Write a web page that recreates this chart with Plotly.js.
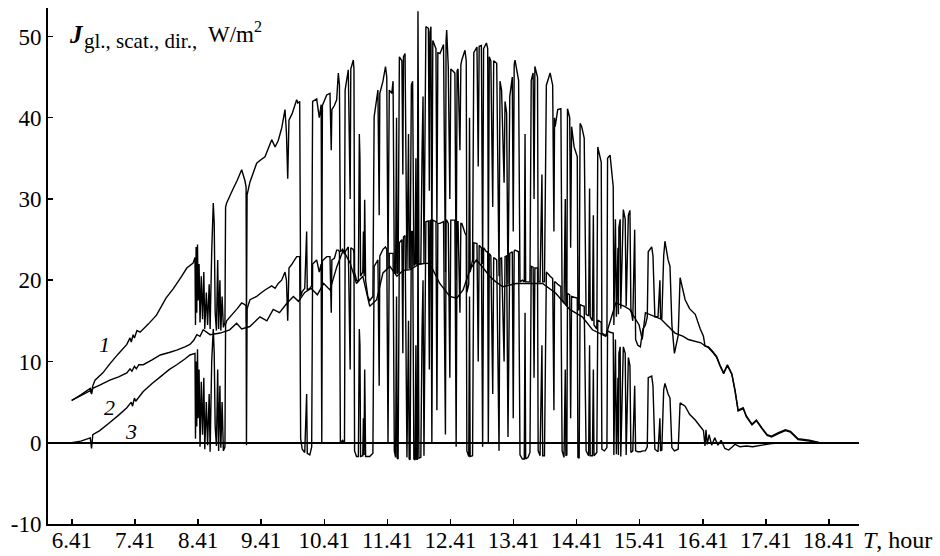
<!DOCTYPE html>
<html>
<head>
<meta charset="utf-8">
<script src="https://cdn.plot.ly/plotly-3.0.1.min.js"></script>
<style>html,body{margin:0;padding:0;background:#fff;}#chart{width:940px;height:556px;}</style>
</head>
<body>
<div id="chart"></div>
<script>
// Time axis (hours) and tick labels
const tickHours = [6.41, 7.41, 8.41, 9.41, 10.41, 11.41, 12.41, 13.41, 14.41, 15.41, 16.41, 17.41, 18.41];
const tickLabels = ["6.41", "7.41", "8.41", "9.41", "10.41", "11.41", "12.41", "13.41", "14.41", "15.41", "16.41", "17.41", "18.41"];
const yTicks = [-10, 0, 10, 20, 30, 40, 50];
const yTickLabels = ["-10", "0", "10", "20", "30", "40", "50"];

// Morning part of curve 1 (global)
const tMorning1 = [6.405,6.55,6.70,6.72,6.74,6.775,6.90,7.01,7.14,7.28,7.33,7.35,7.38,7.40,7.44,7.49,7.62,7.75,7.90,8.02,8.15,8.23,8.33];
const jMorning1 = [5.2,5.9,6.7,6.2,7.0,7.7,8.6,9.7,10.9,12.1,12.9,12.4,13.3,12.9,13.8,13.6,14.6,15.7,17.8,19.0,20.5,21.5,22.1];

// Morning part of curve 3 (direct)
const tMorning3 = [6.405,6.55,6.70,6.72,6.74,6.85,7.01,7.15,7.28,7.35,7.37,7.40,7.42,7.54,7.68,7.81,7.95,8.07,8.20,8.28];
const jMorning3 = [0.0,0.2,0.6,-0.7,1.0,1.5,2.5,3.4,4.3,5.0,4.5,5.5,5.1,6.3,7.3,8.1,9.0,9.6,10.3,10.8];

// Cloudy period: common time stamps, global (curve 1) and direct (curve 3)
const tCloud = [
8.360,8.368,8.378,8.388,8.400,8.410,8.425,8.440,8.460,8.480,
8.500,8.515,8.540,8.560,8.585,8.600,8.625,8.650,8.665,8.680,
8.700,8.720,8.735,8.755,8.770,8.790,8.810,8.835,8.845,8.862,
8.950,9.030,9.100,9.150,9.170,9.176,9.186,9.232,9.338,9.400,
9.470,9.576,9.630,9.680,9.734,9.787,9.810,9.830,9.850,9.900,
9.972,9.990,10.020,10.035,10.060,10.100,10.130,10.140,10.180,10.210,
10.225,10.289,10.330,10.360,10.370,10.380,10.448,10.500,10.520,10.530,
10.570,10.606,10.632,10.650,10.665,10.700,10.730,10.740,10.790,10.820,
10.830,10.870,10.880,10.890,10.920,10.950,10.965,10.975,10.985,11.020,
11.030,11.040,11.050,11.065,11.100,11.130,11.180,11.200,11.260,11.280,
11.290,11.340,11.380,11.400,11.420,11.440,11.480,11.500,11.520,11.540,
11.555,11.565,11.580,11.600,11.640,11.655,11.665,11.690,11.720,11.745,
11.755,11.770,11.790,11.810,11.830,11.850,11.862,11.872,11.885,11.895,
11.910,11.940,11.960,11.975,11.990,12.020,12.060,12.075,12.085,12.100,
12.115,12.130,12.180,12.195,12.210,12.244,12.300,12.330,12.340,12.350,
12.375,12.400,12.415,12.480,12.500,12.515,12.530,12.560,12.575,12.590,
12.640,12.660,12.670,12.700,12.712,12.722,12.760,12.780,12.830,12.850,
12.865,12.900,12.920,12.935,12.980,13.000,13.010,13.025,13.050,13.080,
13.095,13.143,13.180,13.195,13.220,13.260,13.275,13.300,13.322,13.350,
13.390,13.405,13.420,13.433,13.490,13.512,13.550,13.580,13.592,13.602,
13.640,13.670,13.690,13.720,13.735,13.748,13.790,13.800,13.830,13.860,
13.872,13.900,13.930,13.990,14.030,14.050,14.060,14.070,14.110,14.160,
14.180,14.210,14.230,14.240,14.255,14.265,14.300,14.315,14.330,14.370,
14.420,14.430,14.450,14.465,14.490,14.530,14.560,14.600,14.615,14.625,
14.660,14.675,14.685,14.730,14.745,14.800,14.810,14.850,14.890,14.900,
14.940,14.990,15.000,15.025,15.040,15.065,15.072,15.080,15.100,15.110,
15.150,15.180,15.195,15.230,15.255,15.270,15.300,15.330,15.345,15.380,
15.420,15.460,15.500,15.530,15.545,15.600,15.620,15.650,15.700,15.730,
15.740,15.760,15.790,15.810,15.860,15.890,15.920,15.960,16.020,16.050,
16.130,16.200,16.290,16.370,16.420,16.445];
const jCloud1 = [
22.8,14.5,24.1,16.0,24.4,17.5,22.0,14.8,20.5,15.2,
21.0,14.0,18.5,14.5,19.5,14.0,23.5,29.5,27.0,16.0,
13.8,22.5,14.0,20.0,13.8,18.0,14.2,14.8,29.0,29.5,
31.0,32.3,33.6,32.3,31.5,14.8,30.5,32.1,34.4,34.8,
35.2,37.3,36.4,37.2,38.7,41.0,38.1,32.5,39.7,40.5,
42.2,41.8,42.0,18.0,18.6,19.0,26.0,18.8,19.0,19.3,
42.0,42.3,40.0,41.6,19.5,41.5,42.8,43.0,36.0,41.0,
41.5,42.2,45.5,44.0,23.5,23.8,23.2,43.4,45.9,30.0,
46.0,47.1,46.0,21.0,20.0,19.8,38.0,35.0,20.5,21.0,
26.0,20.5,29.9,20.0,18.0,17.5,18.0,40.1,43.4,28.0,
43.0,44.5,46.3,45.0,21.5,43.4,43.0,44.5,21.0,20.8,
40.0,20.8,21.0,47.5,47.0,33.0,47.5,47.9,21.3,38.0,
21.5,21.5,44.0,44.5,21.8,22.0,35.0,22.0,22.0,53.1,
22.0,22.0,36.0,42.6,22.0,51.2,51.0,31.0,50.5,51.2,
22.0,49.5,48.5,27.0,48.0,47.9,49.0,21.0,49.5,50.8,
46.3,30.0,46.0,45.5,20.0,45.8,46.0,36.0,46.5,47.1,
48.3,47.0,18.5,19.5,40.0,21.0,22.5,48.0,48.7,34.0,
48.8,48.9,22.0,48.5,49.2,48.5,21.0,47.5,47.0,29.0,
47.0,46.7,20.5,44.5,43.4,32.0,42.0,40.6,19.5,42.6,
45.0,26.0,46.5,47.1,44.6,19.8,20.0,19.8,38.0,19.8,
19.8,19.8,44.6,45.5,30.0,46.3,45.0,19.8,19.8,33.0,
19.8,19.8,44.0,45.5,44.0,26.0,40.0,38.9,41.0,41.1,
17.5,17.2,30.0,17.0,17.0,41.1,40.0,24.0,38.9,36.4,
35.2,16.5,16.3,39.3,38.9,37.5,15.8,15.6,31.3,15.5,
15.0,28.0,14.5,14.0,36.4,34.5,13.5,13.3,13.2,35.0,
35.4,31.5,14.5,27.5,15.5,24.0,15.8,26.5,27.5,16.5,
28.7,27.5,16.8,28.0,28.6,16.5,15.0,26.2,12.7,12.0,
11.8,14.0,14.5,15.5,23.5,24.1,23.0,15.5,15.5,20.0,
15.3,15.2,23.0,24.8,22.5,21.7,14.5,11.0,13.2,20.3,
17.6,16.5,15.8,14.0,13.1,11.9];
const jCloud3 = [
11.0,0.5,10.0,2.0,11.5,3.0,9.0,-0.5,7.5,1.0,
8.0,-0.8,5.0,-0.3,6.0,-1.1,10.0,14.0,11.0,2.0,
-0.4,9.0,-1.0,7.0,-0.6,5.0,-1.0,-0.5,14.5,15.0,
15.8,16.5,17.2,17.0,16.8,-0.3,16.5,17.6,18.0,18.4,
18.8,19.3,19.0,19.6,20.0,21.0,20.0,15.0,21.5,22.0,
22.9,22.9,22.9,0.5,-0.8,-1.2,6.0,-1.3,-1.5,-0.5,
22.0,22.5,21.0,22.0,0.0,22.4,22.9,22.9,16.0,22.5,
22.7,23.7,23.7,23.5,0.0,0.3,0.0,23.5,24.1,9.0,
24.0,23.8,23.3,-1.0,-1.7,-1.7,14.0,12.0,-1.7,-1.6,
3.0,-1.5,9.0,-1.7,-1.7,-1.7,-1.3,21.7,22.5,7.0,
23.0,23.8,24.1,23.8,0.0,23.3,23.3,23.3,-1.0,-1.8,
18.0,-1.9,-2.0,24.6,25.0,11.0,25.3,25.5,-1.8,15.0,
-2.0,-2.1,26.0,26.0,-2.0,-2.1,12.0,-2.0,-2.1,27.0,
-1.9,-1.8,14.0,20.0,-1.6,27.2,27.3,9.0,27.3,27.4,
0.0,27.4,27.2,4.0,27.0,27.0,27.2,1.0,27.4,27.4,
27.0,8.0,27.4,27.4,-0.5,27.2,27.2,16.0,27.0,27.0,
25.8,25.5,-1.0,-1.7,18.0,-1.7,-1.6,24.6,24.5,10.0,
24.3,24.0,-0.5,24.0,23.5,23.5,0.0,23.3,23.0,6.0,
22.8,22.5,-1.0,22.6,22.8,10.0,22.9,23.0,0.7,23.3,
23.5,3.0,23.6,23.7,23.5,-1.5,-2.0,-2.0,16.0,-2.0,
-1.8,-1.2,21.7,21.6,8.0,21.5,21.5,-1.0,-1.6,12.0,
-1.6,-1.6,21.0,20.5,20.2,4.0,19.8,19.8,19.5,19.2,
-1.0,-1.8,9.0,-1.6,-1.5,18.4,18.2,3.0,18.0,17.9,
17.8,-1.8,-1.9,17.0,16.9,16.8,-1.0,-1.6,12.0,-1.6,
-1.6,9.0,-1.6,-1.2,15.1,14.8,-0.8,-1.0,-0.6,13.8,
13.6,13.5,-1.5,12.7,-1.4,8.0,-1.5,11.0,11.8,-1.7,
11.8,11.0,-1.5,10.5,9.5,-1.2,-1.0,7.0,-1.0,-1.1,
-1.1,-1.0,-1.0,-0.5,8.0,8.2,7.0,-0.8,-1.1,3.0,
-1.0,-0.9,6.5,7.3,6.0,5.5,-0.6,-1.0,-0.8,4.9,
4.5,3.5,2.8,2.0,1.5,-0.4];

// Evening parts
const tEvening1 = [16.50,16.57,16.63,16.68,16.74,16.80,16.87,16.92,16.97,17.05,17.10,17.19,17.26,17.35,17.43,17.50,17.60,17.72,17.80,17.92,18.10,18.25,18.87];
const jEvening1 = [11.8,11.2,10.6,9.6,8.6,9.6,8.5,6.5,4.0,4.3,3.3,2.3,2.8,1.8,1.0,0.8,1.2,1.6,1.4,0.5,0.3,0.05,0.0];
const tEvening3 = [16.46,16.48,16.51,16.55,16.60,16.65,16.70,16.76,16.82,16.88,16.92,17.00,17.10,17.20,17.35,17.50,17.70,18.87];
const jEvening3 = [1.6,-0.2,1.0,-0.3,0.6,-0.3,0.3,-0.7,-0.9,-0.5,-0.2,-0.5,-0.4,-0.5,-0.3,-0.1,0.0,0.0];

// Curve 2: scattered radiation (whole day)
const t2 = [6.405,6.55,6.70,6.72,6.74,6.85,7.01,7.15,7.28,7.33,7.36,7.40,7.43,7.47,7.54,7.68,7.81,7.95,8.07,8.20,8.28,8.34,8.39,8.44,8.49,
8.60,8.76,8.91,9.02,9.10,9.23,9.39,9.50,9.60,9.70,9.82,9.92,10.00,10.10,10.20,10.30,10.40,10.50,10.61,10.71,10.82,10.92,11.02,11.13,11.24,
11.34,11.45,11.56,11.66,11.77,11.92,12.08,12.24,12.40,12.51,12.61,12.72,12.82,12.93,13.03,13.13,13.24,13.45,13.66,13.87,14.08,14.30,14.50,
14.66,14.87,15.03,15.16,15.25,15.40,15.45,15.50,15.66,15.75,15.97,16.10,16.18,16.38,16.45,16.50,16.57,16.63,16.68,16.74,16.80,16.87,16.92,
16.97,17.05,17.10,17.19,17.26,17.35,17.43,17.50,17.60,17.72,17.80,17.92,18.10,18.25,18.87];
const j2 = [5.2,5.8,6.4,6.0,6.7,7.1,7.7,8.1,8.6,9.1,8.8,9.4,9.1,9.6,9.6,10.2,10.8,11.1,11.4,11.8,12.1,12.6,13.3,13.1,13.9,
13.3,13.5,13.9,14.7,14.0,14.3,15.5,15.0,16.4,16.0,17.2,18.0,17.4,18.5,19.0,18.2,19.6,18.8,21.7,23.7,22.1,19.6,20.5,16.8,17.6,
20.9,21.7,20.5,21.2,21.3,22.0,22.1,19.6,18.0,17.8,18.8,21.3,22.5,21.5,20.5,19.8,19.2,19.6,19.6,19.6,18.4,16.4,15.5,
13.9,13.1,17.2,16.8,16.4,14.5,12.7,16.0,15.5,15.2,13.5,13.1,12.7,12.3,11.9,11.7,11.1,10.5,9.5,8.5,9.5,8.4,6.4,
3.9,4.2,3.2,2.2,2.7,1.7,0.9,0.7,1.1,1.5,1.3,0.4,0.2,0.0,0.0];

// Curve number labels
const curveNames = ["1", "2", "3"];
const labelHours = [6.92, 7.01, 7.345];
const labelValues = [12.05, 4.3, 1.35];

const t1 = tMorning1.concat(tCloud, tEvening1);
const j1 = jMorning1.concat(jCloud1, jEvening1);
const t3 = tMorning3.concat(tCloud, tEvening3);
const j3 = jMorning3.concat(jCloud3, jEvening3);

const lineStyle = {color: '#000', width: 1.4, simplify: false};
const traces = [
  {x: t1, y: j1, type: 'scatter', mode: 'lines', line: lineStyle, hoverinfo: 'skip'},
  {x: t2, y: j2, type: 'scatter', mode: 'lines', line: lineStyle, hoverinfo: 'skip'},
  {x: t3, y: j3, type: 'scatter', mode: 'lines', line: lineStyle, hoverinfo: 'skip'}
];

const serif = "'Liberation Serif', 'Times New Roman', serif";
const annotations = curveNames.map((n, i) => ({
  x: labelHours[i], y: labelValues[i], xref: 'x', yref: 'y', text: '<i>' + n + '</i>',
  showarrow: false, font: {family: serif, size: 22, color: '#000'}, xanchor: 'center', yanchor: 'middle'
}));
annotations.push({
  x: 0.0234, y: 0.948, xref: 'paper', yref: 'paper', xanchor: 'left', yanchor: 'middle',
  text: '<b><i>J</i></b>', showarrow: false, font: {family: serif, size: 25, color: '#000'}
});
annotations.push({
  x: 0.0419, y: 0.937, xref: 'paper', yref: 'paper', xanchor: 'left', yanchor: 'middle',
  text: 'gl., scat., dir.,', showarrow: false, font: {family: serif, size: 21, color: '#000'}
});
annotations.push({
  x: 0.195, y: 0.952, xref: 'paper', yref: 'paper', xanchor: 'left', yanchor: 'middle',
  text: 'W/m<sup>2</sup>', showarrow: false, font: {family: serif, size: 23, color: '#000'}
});
annotations.push({
  x: 1.003, y: -0.031, xref: 'paper', yref: 'paper', xanchor: 'left', yanchor: 'middle',
  text: '<i>T</i>, hour', showarrow: false, font: {family: serif, size: 24, color: '#000'}
});

const layout = {
  width: 940, height: 556,
  margin: {l: 48, r: 81, t: 8, b: 32, pad: 0},
  paper_bgcolor: '#fff', plot_bgcolor: '#fff',
  showlegend: false,
  font: {family: serif, size: 23, color: '#000'},
  xaxis: {
    range: [6.03, 18.886], tickmode: 'array', tickvals: tickHours, ticktext: tickLabels,
    ticks: 'inside', ticklen: 5, tickwidth: 1.5, tickcolor: '#000', ticklabelstandoff: -6,
    showline: true, linewidth: 2, linecolor: '#000', showgrid: false, zeroline: false,
    tickfont: {family: serif, size: 23, color: '#000'}
  },
  yaxis: {
    range: [-10, 53.5], tickmode: 'array', tickvals: yTicks, ticktext: yTickLabels,
    ticks: 'inside', ticklen: 5, tickwidth: 1.5, tickcolor: '#000',
    showline: true, linewidth: 2, linecolor: '#000', showgrid: false,
    zeroline: true, zerolinecolor: '#000', zerolinewidth: 2,
    tickfont: {family: serif, size: 23, color: '#000'}
  },
  annotations: annotations
};

Plotly.newPlot('chart', traces, layout, {staticPlot: true, displayModeBar: false});
</script>
</body>
</html>
